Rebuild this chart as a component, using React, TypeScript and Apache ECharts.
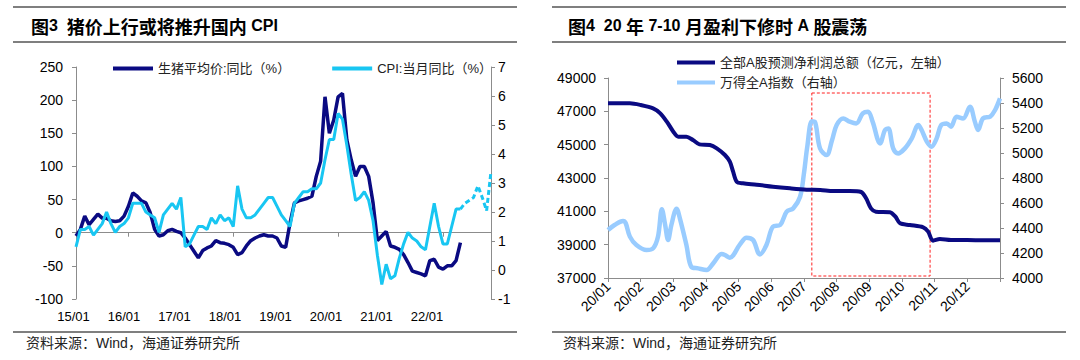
import React, { useEffect, useRef } from "react";
import * as echarts from "echarts";

// ---------- Figure 3 data (monthly, 2015/01 - 2022/12) ----------
const months: string[] = [];
for (let y = 15; y <= 22; y++) {
  for (let m = 1; m <= 12; m++) months.push(`${y}/${m < 10 ? "0" + m : m}`);
}
const yearTicks = ["15/01", "16/01", "17/01", "18/01", "19/01", "20/01", "21/01", "22/01", ""];

// 生猪平均价:同比（%）
const pigYoY: (number | null)[] = [
  -5, 5, 25, 12, 20, 28, 22, 22, 18, 17, 18, 25,
  40, 60, 55, 48, 45, 30, 5, -5, -3, 3, 5, 2,
  0, -8, -18, -28, -38, -27, -23, -20, -12, -15, -16, -18,
  -22, -33, -30, -20, -12, -8, -5, -3, -5, -5, -8, -20,
  -22, 15, 45, 48, 50, 52, 55, 85, 108, 205, 150, 170,
  205, 210, 140, 110, 85, 100, 100, 85, 45, -12, -5, 2,
  -20, -22, -25, -33, -45, -58, -60, -62, -65, -42, -40, -52,
  -55, -50, -50, -42, -15,
];

// CPI:当月同比（%）— actual
const cpiYoY: (number | null)[] = [
  0.8, 1.4, 1.4, 1.5, 1.2, 1.4, 1.6, 2.0, 1.6, 1.3, 1.5, 1.6,
  1.8, 2.3, 2.3, 2.3, 2.0, 1.9, 1.8, 1.3, 1.9, 2.1, 2.3, 2.1,
  2.5, 0.8, 0.9, 1.2, 1.5, 1.5, 1.4, 1.8, 1.6, 1.9, 1.7, 1.8,
  1.5, 2.9, 2.1, 1.8, 1.8, 1.9, 2.1, 2.3, 2.5, 2.5, 2.2, 1.9,
  1.7, 1.5, 2.3, 2.5, 2.7, 2.7, 2.8, 2.8, 3.0, 3.8, 4.5, 4.5,
  5.4, 5.2, 4.3, 3.3, 2.4, 2.5, 2.7, 2.4, 1.7, 0.5, -0.5, 0.2,
  -0.3, -0.2, 0.4, 0.9, 1.3, 1.1, 1.0, 0.8, 0.7, 1.5, 2.3, 1.5,
  0.9, 0.9, 1.5, 2.1, 2.1,
];
// CPI forecast (dashed), 2022/05 - 2022/12
const cpiForecastStart = 88;
const cpiForecast = [2.1, 2.3, 2.4, 2.5, 2.9, 2.5, 2.05, 3.4];

// ---------- Figure 4 data (2020, x in months since 2020/01/01) ----------
const monthTicks = ["20/01", "20/02", "20/03", "20/04", "20/05", "20/06", "20/07", "20/08", "20/09", "20/10", "20/11", "20/12"];

const profitMonths = [0, 0.67, 1.0, 1.38, 1.6, 1.8, 2.0, 2.15, 2.4, 2.6, 2.8, 3.12, 3.33, 3.58, 3.73, 3.83, 3.94, 4.13, 4.55, 5.05, 5.57, 6.08, 6.5, 6.9, 7.4, 7.75, 7.9, 8.05, 8.2, 8.63, 8.8, 8.94, 9.24, 9.65, 9.8, 9.95, 10.16, 10.5, 11, 11.5, 12];
const profitValues = [47480, 47480, 47380, 47180, 46880, 46380, 45780, 45480, 45480, 45280, 45020, 44980, 44780, 44380, 43980, 43380, 42780, 42680, 42600, 42480, 42380, 42300, 42280, 42220, 42220, 42160, 41780, 41180, 40980, 40950, 40680, 40280, 40180, 40040, 39780, 39240, 39340, 39280, 39280, 39260, 39260];

const indexMonths = [0, 0.2, 0.46, 0.54, 0.67, 0.87, 1.18, 1.38, 1.53, 1.65, 1.75, 1.84, 1.94, 2.1, 2.2, 2.4, 2.55, 2.76, 3.02, 3.22, 3.48, 3.58, 3.73, 4.04, 4.24, 4.44, 4.65, 4.85, 5.05, 5.27, 5.47, 5.67, 5.88, 6.0, 6.1, 6.24, 6.33, 6.49, 6.69, 6.86, 7.0, 7.2, 7.4, 7.6, 7.8, 7.96, 8.1, 8.33, 8.48, 8.58, 8.73, 8.88, 9.09, 9.3, 9.5, 9.6, 9.76, 9.9, 10.06, 10.2, 10.37, 10.5, 10.67, 10.87, 11.08, 11.23, 11.33, 11.48, 11.7, 11.85, 12];
const indexValues = [4384, 4424, 4456, 4440, 4331, 4264, 4224, 4237, 4330, 4550, 4424, 4304, 4424, 4555, 4477, 4264, 4090, 4077, 4064, 4117, 4192, 4184, 4163, 4269, 4323, 4304, 4189, 4264, 4411, 4424, 4531, 4557, 4650, 4840, 5050, 5255, 5251, 5037, 4984, 5104, 5224, 5277, 5251, 5237, 5317, 5331, 5251, 5077, 5184, 5197, 5037, 4997, 5037, 5117, 5224, 5184, 5091, 5051, 5117, 5224, 5237, 5211, 5291, 5277, 5371, 5251, 5184, 5277, 5291, 5344, 5437];

// red dashed highlight box (Jul-Oct 2020), in data units
const boxStart = 6.24;
const boxEnd = 9.86;
const boxTop = 48100;
const boxBottom = 37120;

const PIG = "生猪平均价:同比（%）";
const CPI = "CPI:当月同比（%）";
const PROFIT = "全部A股预测净利润总额（亿元，左轴）";
const WIND = "万得全A指数（右轴）";

const FONT = "'Liberation Sans', Arial, 'Noto Sans CJK SC', sans-serif";
const AXIS = "#8c8c8c";
const NAVY = "#0a0a82";
const CYAN = "#18c6f2";
const LIGHT = "#99ccff";
const RULE = "#555555";

export default function App() {
  const ref = useRef<HTMLDivElement>(null);

  useEffect(() => {
    if (!ref.current) return;
    const chart = echarts.init(ref.current, undefined, { renderer: "svg" });

    const cpiForecastData: (number | null)[] = months.map(() => null);
    cpiForecast.forEach((v, k) => (cpiForecastData[cpiForecastStart + k] = v));

    const titleRich = {
      c: { fontSize: 18, fontWeight: "bold", fontFamily: "'Noto Sans CJK SC', sans-serif", color: "#000" },
      l: { fontSize: 16, fontWeight: "bold", fontFamily: "'Liberation Sans', Arial, sans-serif", color: "#000" },
    };

    const ruleLine = (x1: number, x2: number, y: number) => ({
      type: "line",
      shape: { x1, y1: y, x2, y2: y },
      style: { stroke: RULE, lineWidth: 1.5 },
      silent: true,
    });

    const sourceText = (x: number) => ({
      type: "text",
      x,
      y: 343,
      style: {
        text: "资料来源：Wind，海通证券研究所",
        fontSize: 14,
        fontFamily: FONT,
        fill: "#222",
        verticalAlign: "middle",
      },
      silent: true,
    });

    const yAxisBase = {
      axisLine: { show: true, lineStyle: { color: AXIS, width: 1 } },
      axisTick: { show: true, length: 4, lineStyle: { color: AXIS } },
      splitLine: { show: false },
    };

    const plain = (v: number) => String(v);

    const option: any = {
      animation: false,
      textStyle: { fontFamily: FONT },
      title: [
        {
          left: 26,
          top: 12,
          text: "{c|图}{l|3}  {c|猪价上行或将推升国内} {l|CPI}",
          textStyle: { rich: titleRich, fontSize: 16 },
        },
        {
          left: 563,
          top: 12,
          text: "{c|图}{l|4}  {l|20} {c|年} {l|7-10} {c|月盈利下修时} {l|A} {c|股震荡}",
          textStyle: { rich: titleRich, fontSize: 16 },
        },
      ],
      graphic: [
        ruleLine(13, 517, 7),
        ruleLine(13, 517, 42),
        ruleLine(13, 517, 332),
        ruleLine(552, 1066, 7),
        ruleLine(552, 1066, 42),
        ruleLine(552, 1066, 332),
        sourceText(26),
        sourceText(563),
      ],
      legend: [
        {
          data: [PIG, CPI],
          left: 108,
          top: 57,
          icon: "rect",
          itemWidth: 40,
          itemHeight: 4,
          itemGap: 42,
          textStyle: { fontSize: 13, color: "#222", fontFamily: FONT },
        },
        {
          data: [PROFIT, WIND],
          orient: "vertical",
          left: 672,
          top: 51,
          icon: "rect",
          itemWidth: 38,
          itemHeight: 4,
          itemGap: 7,
          textStyle: { fontSize: 13, color: "#222", fontFamily: FONT },
        },
      ],
      grid: [
        { left: 76, top: 67, width: 415, height: 232 },
        { left: 73.5, top: 67, width: 404, height: 232 },
        { left: 608, top: 78, width: 392, height: 200 },
      ],
      xAxis: [
        {
          type: "category",
          gridIndex: 0,
          data: months,
          boundaryGap: false,
          axisLine: { show: true, onZero: true, onZeroAxisIndex: 0, lineStyle: { color: AXIS, width: 1 } },
          axisTick: { show: true, length: 4, interval: (i: number) => i % 24 === 12, lineStyle: { color: AXIS } },
          axisLabel: { show: false },
          splitLine: { show: false },
        },
        {
          type: "category",
          gridIndex: 1,
          data: yearTicks,
          boundaryGap: false,
          axisLine: { show: false },
          axisTick: { show: false },
          axisLabel: { show: true, interval: 0, fontSize: 13, color: "#000", margin: 11 },
          splitLine: { show: false },
        },
        {
          type: "value",
          gridIndex: 2,
          min: 0,
          max: 12,
          interval: 1,
          axisLine: { show: true, onZero: false, lineStyle: { color: AXIS, width: 1 } },
          axisTick: { show: true, length: 4, lineStyle: { color: AXIS } },
          axisLabel: {
            rotate: 45,
            fontSize: 14,
            color: "#000",
            margin: 6,
            formatter: (v: number) => (v < 12 ? monthTicks[Math.round(v)] : ""),
          },
          splitLine: { show: false },
        },
      ],
      yAxis: [
        {
          ...yAxisBase,
          type: "value",
          gridIndex: 0,
          position: "left",
          min: -100,
          max: 250,
          interval: 50,
          axisLabel: { fontSize: 14, color: "#000", margin: 13, formatter: plain },
        },
        {
          ...yAxisBase,
          type: "value",
          gridIndex: 0,
          position: "right",
          min: -1,
          max: 7,
          interval: 1,
          axisLabel: { fontSize: 14, color: "#000", margin: 7, formatter: plain },
        },
        { type: "value", gridIndex: 1, show: false, min: 0, max: 1 },
        {
          ...yAxisBase,
          type: "value",
          gridIndex: 2,
          position: "left",
          min: 37000,
          max: 49000,
          interval: 2000,
          axisLabel: { fontSize: 14, color: "#000", margin: 12, formatter: plain },
        },
        {
          ...yAxisBase,
          type: "value",
          gridIndex: 2,
          position: "right",
          min: 4000,
          max: 5600,
          interval: 200,
          axisLabel: { fontSize: 14, color: "#000", margin: 12, formatter: plain },
        },
      ],
      series: [
        {
          name: PIG,
          type: "line",
          xAxisIndex: 0,
          yAxisIndex: 0,
          data: pigYoY,
          symbol: "none",
          color: NAVY,
          lineStyle: { width: 3.5, color: NAVY },
        },
        {
          name: CPI,
          type: "line",
          xAxisIndex: 0,
          yAxisIndex: 1,
          data: cpiYoY,
          symbol: "none",
          color: CYAN,
          lineStyle: { width: 3, color: CYAN },
        },
        {
          name: "CPI预测",
          type: "line",
          xAxisIndex: 0,
          yAxisIndex: 1,
          data: cpiForecastData,
          symbol: "none",
          color: CYAN,
          lineStyle: { width: 3, color: CYAN, type: [5, 3] },
        },
        {
          name: WIND,
          type: "line",
          xAxisIndex: 2,
          yAxisIndex: 4,
          data: indexMonths.map((m, k) => [m, indexValues[k]]),
          symbol: "none",
          smooth: 0.35,
          color: LIGHT,
          lineStyle: { width: 4.5, color: LIGHT },
        },
        {
          name: PROFIT,
          type: "line",
          xAxisIndex: 2,
          yAxisIndex: 3,
          data: profitMonths.map((m, k) => [m, profitValues[k]]),
          symbol: "none",
          smooth: 0.3,
          color: NAVY,
          lineStyle: { width: 4, color: NAVY },
          markArea: {
            silent: true,
            itemStyle: {
              color: "rgba(0,0,0,0)",
              borderColor: "#ff2020",
              borderWidth: 1,
              borderType: [3, 2],
            },
            data: [[{ coord: [boxStart, boxTop] }, { coord: [boxEnd, boxBottom] }]],
          },
        },
      ],
    };

    chart.setOption(option);
    return () => chart.dispose();
  }, []);

  return (
    <div
      ref={ref}
      style={{ position: "absolute", left: 0, top: 0, width: 1080, height: 360, background: "#fff" }}
    />
  );
}
